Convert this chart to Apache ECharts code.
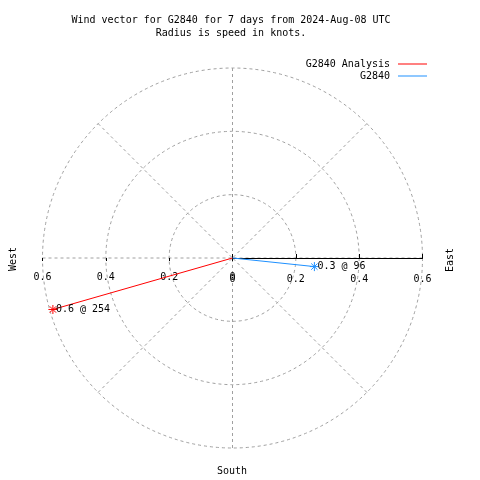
<!DOCTYPE html>
<html><head><meta charset="utf-8">
<script src="https://cdn.jsdelivr.net/npm/echarts@6/dist/echarts.min.js"></script>
<style>html,body{margin:0;padding:0;background:#fff}#c{width:480px;height:480px}</style>
</head><body><div id="c"></div>
<script>
const seriesNames = ['G2840 Analysis', 'G2840'];
const speeds = [0.59, 0.26];
const directions = [254, 96];
const pointLabels = ['0.6 @ 254', '0.3 @ 96'];
const colors = ['#ff0000', '#1e90ff'];
const radiusTicks = [0, 0.2, 0.4, 0.6];
const titleLines = ['Wind vector for G2840 for 7 days from 2024-Aug-08 UTC', 'Radius is speed in knots.'];
const compassLabels = ['West', 'East', 'South'];

const FONT = '"DejaVu Sans Mono", "Liberation Mono", monospace';
const GRAY = '#a0a0a0';
const C = [232.5, 258], R = 190;
const rMin = radiusTicks[0], rMax = radiusTicks[radiusTicks.length - 1], rStep = radiusTicks[1] - radiusTicks[0];
const dash = { color: GRAY, width: 1, type: [3, 3] };
const star = 'path://M5,0L5,10M0,5L10,5M1.5,1.5L8.5,8.5M1.5,8.5L8.5,1.5';

function hiddenAngle(idx, start) {
  return { polarIndex: idx, type: 'value', min: 0, max: 360, startAngle: start, clockwise: true,
    axisLine: { show: false }, axisTick: { show: false }, axisLabel: { show: false }, splitLine: { show: false } };
}
function radius(idx, o) {
  return Object.assign({ polarIndex: idx, type: 'value', min: rMin, max: rMax, interval: rStep,
    axisLine: { show: false }, axisTick: { show: false }, axisLabel: { show: false }, splitLine: { show: false } }, o);
}

const chart = echarts.init(document.getElementById('c'), null, { renderer: 'canvas' });
chart.setOption({
  animation: false,
  backgroundColor: '#fff',
  title: { text: titleLines.join('\n'), left: 226, textAlign: 'center', top: 9,
    textStyle: { fontFamily: FONT, fontSize: 10, fontWeight: 'normal', color: '#000', lineHeight: 13 } },
  legend: { orient: 'vertical', right: 48, top: 54, align: 'right', itemWidth: 29, itemHeight: 1, itemGap: 2,
    icon: 'rect', data: seriesNames, itemStyle: { borderWidth: 0 },
    textStyle: { fontFamily: FONT, fontSize: 10, color: '#000', padding: [0, 3, 0, 0] } },
  polar: [0, 1, 2, 3].map(() => ({ center: C, radius: R })),
  angleAxis: [
    { polarIndex: 0, type: 'value', min: 90, max: 450, interval: 45, startAngle: 0, clockwise: true,
      axisLine: { show: false }, axisTick: { show: false }, axisLabel: { show: false },
      splitLine: { show: true, lineStyle: dash } },
    hiddenAngle(1, 0), hiddenAngle(2, 180), hiddenAngle(3, 180)
  ],
  radiusAxis: [
    radius(0, { axisLine: { show: true, lineStyle: { color: '#000', width: 1 } },
      axisTick: { show: true, length: 4, lineStyle: { color: '#000' } },
      axisLabel: { show: true, margin: -26, fontFamily: FONT, fontSize: 10, color: '#000' },
      splitLine: { show: true, lineStyle: dash } }),
    radius(1, { axisTick: { show: true, inside: true, length: 4, lineStyle: { color: '#000' } } }),
    radius(2, { axisTick: { show: true, length: 3, lineStyle: { color: '#000' } },
      axisLabel: { show: true, margin: 14, fontFamily: FONT, fontSize: 10, color: '#000' } }),
    radius(3, { axisTick: { show: true, inside: true, length: 3, lineStyle: { color: '#000' } } })
  ],
  graphic: [
    { type: 'text', x: 13, y: 259, rotation: Math.PI / 2,
      style: { text: compassLabels[0], font: '10px ' + FONT, fill: '#000', align: 'center', verticalAlign: 'middle' } },
    { type: 'text', x: 450, y: 260, rotation: Math.PI / 2,
      style: { text: compassLabels[1], font: '10px ' + FONT, fill: '#000', align: 'center', verticalAlign: 'middle' } },
    { type: 'text', x: 232, y: 471,
      style: { text: compassLabels[2], font: '10px ' + FONT, fill: '#000', align: 'center', verticalAlign: 'middle' } }
  ],
  series: seriesNames.map((name, i) => ({
    type: 'line', name, coordinateSystem: 'polar', polarIndex: 0,
    symbol: star, symbolSize: 9,
    lineStyle: { color: colors[i], width: 1 },
    itemStyle: { color: colors[i], borderColor: colors[i], borderWidth: 1 },
    data: [
      { value: [0, directions[i]], symbol: 'none' },
      { value: [speeds[i], directions[i]],
        label: { show: true, formatter: pointLabels[i], position: 'right', distance: -2,
          fontFamily: FONT, fontSize: 10, color: '#000' } }
    ]
  }))
});
</script>
</body></html>
